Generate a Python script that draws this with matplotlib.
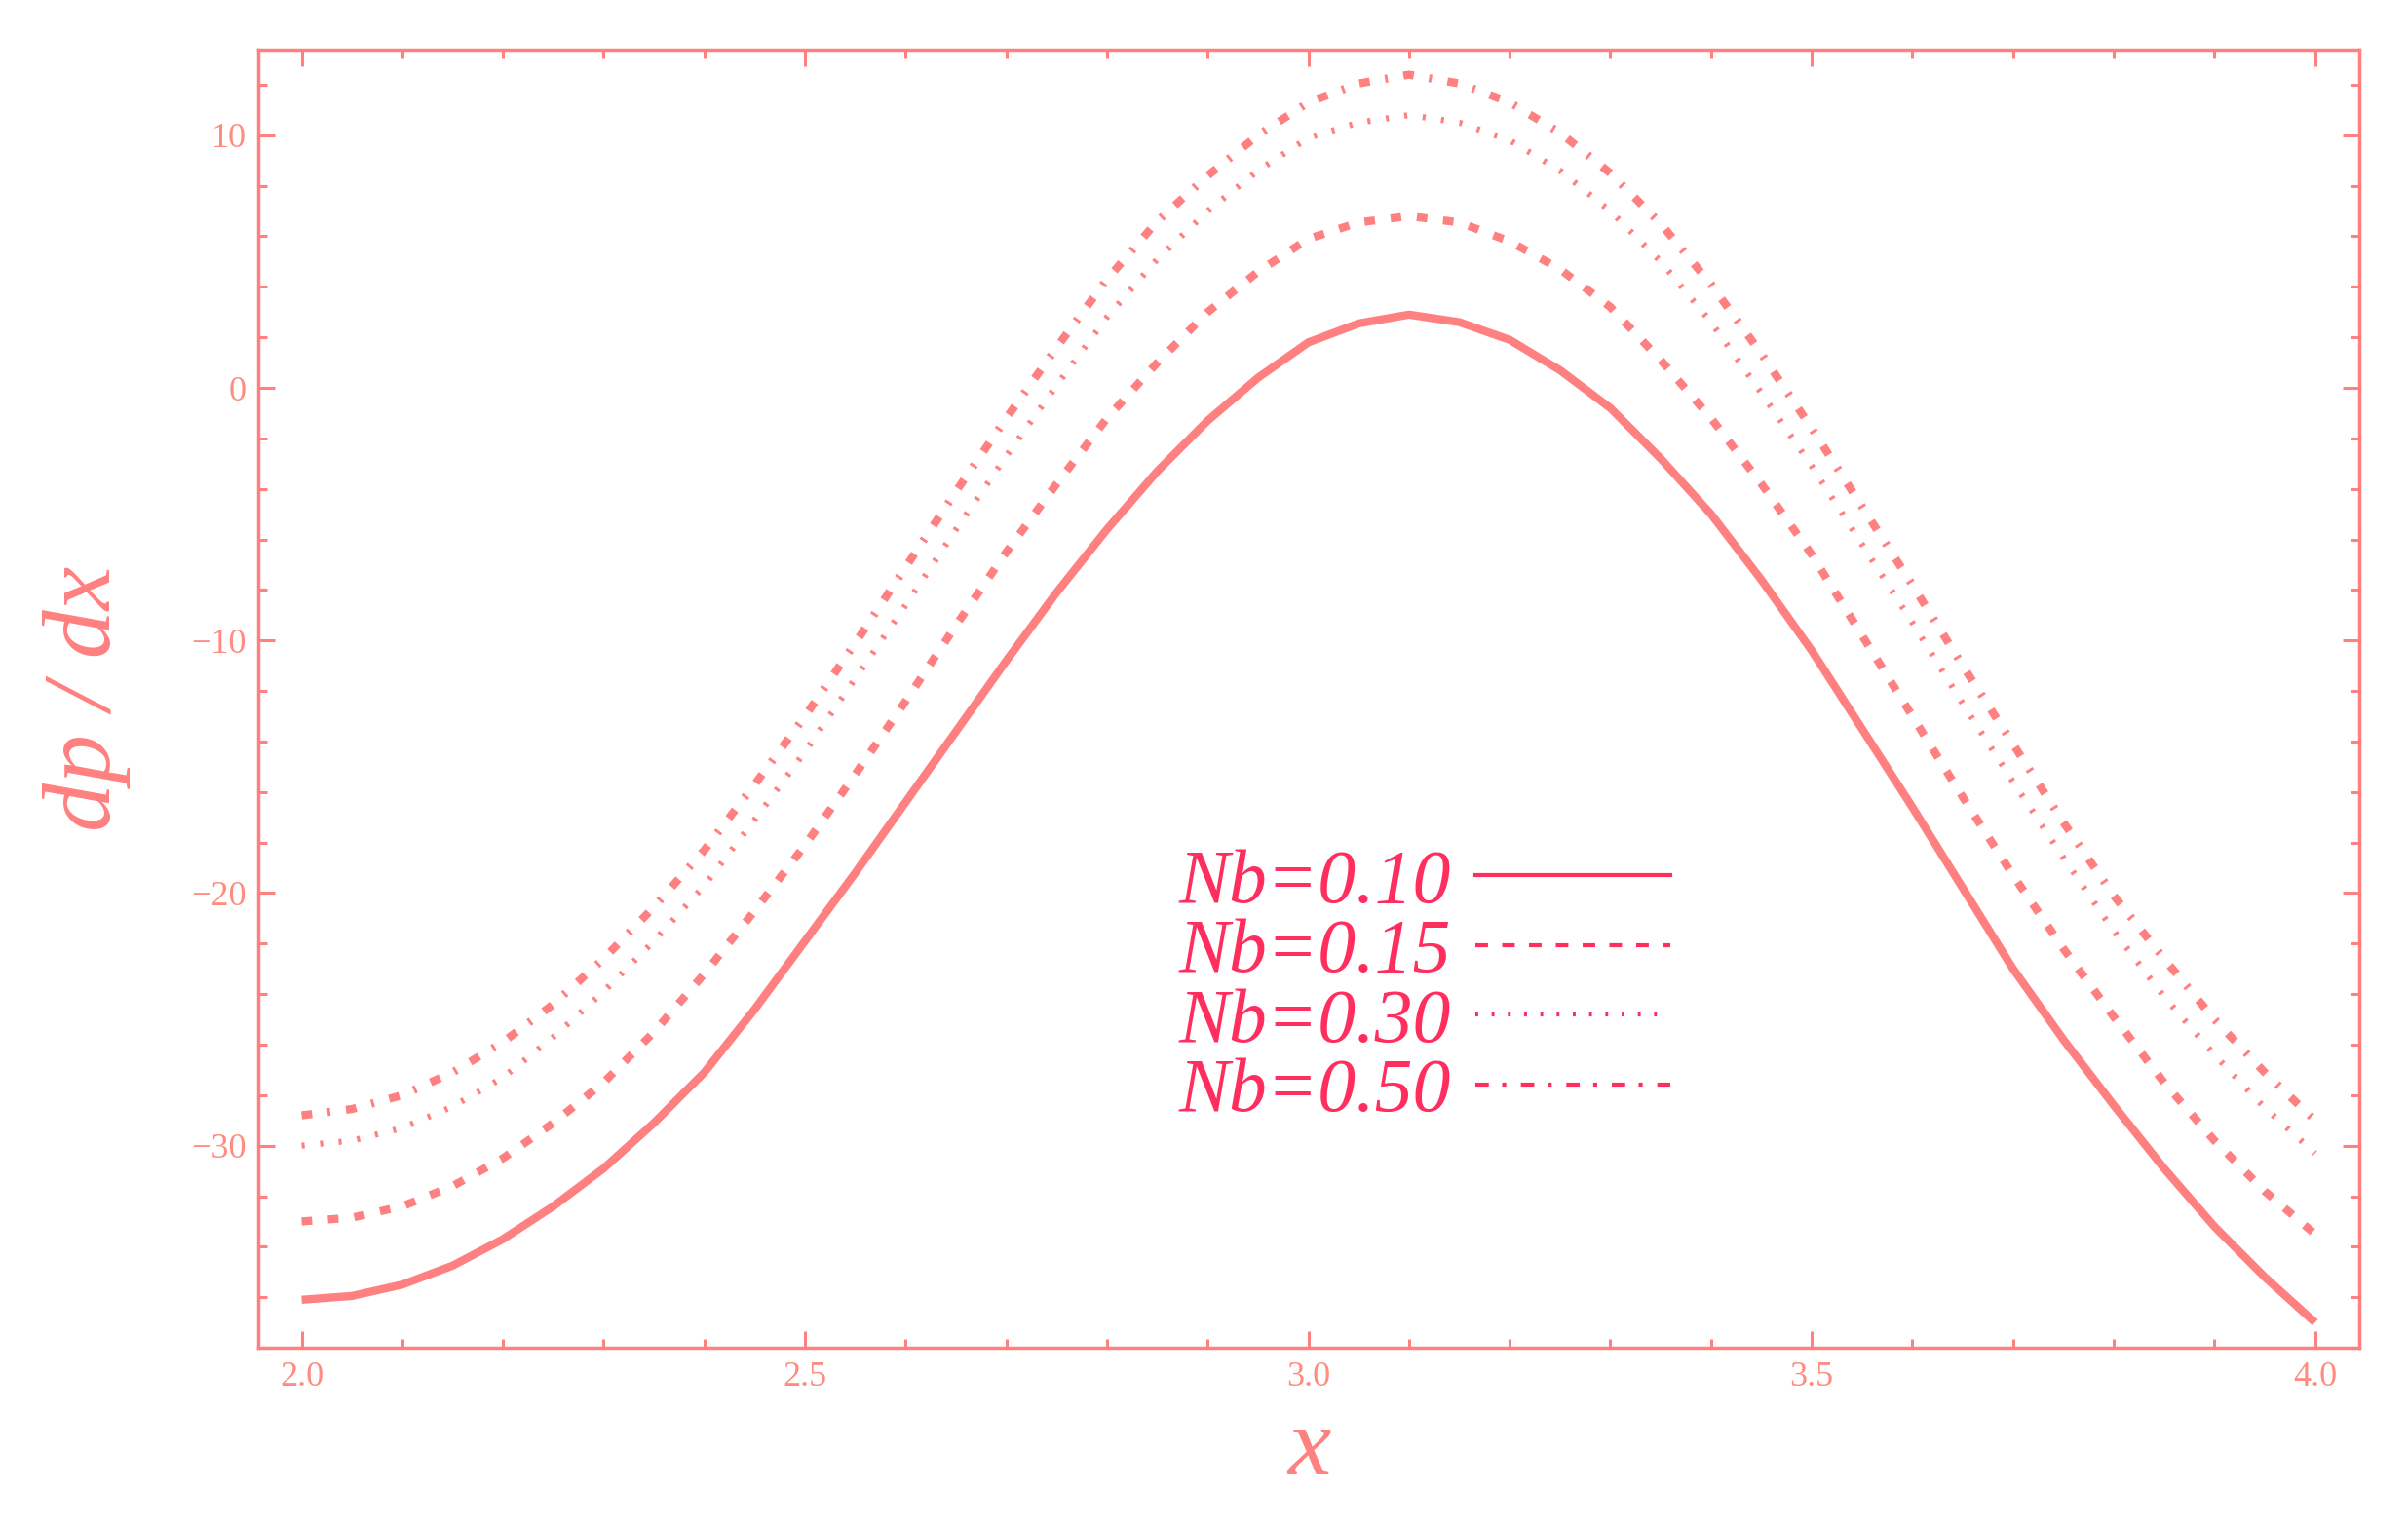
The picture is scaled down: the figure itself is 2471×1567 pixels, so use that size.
import numpy as np
import matplotlib
matplotlib.use('Agg')
import matplotlib.pyplot as plt
from matplotlib.ticker import MultipleLocator, FormatStrFormatter
from matplotlib.lines import Line2D

# valeurs (pas de 0.05 en x)
x = np.linspace(2.0, 4.0, 41)
nb_010 = [-36.1, -35.95, -35.5, -34.75, -33.7, -32.4, -30.9, -29.1, -27.1, -24.6,
          -21.9, -19.2, -16.4, -13.6, -10.8, -8.1, -5.6, -3.3, -1.3, 0.4,
          1.8, 2.55, 2.9, 2.6, 1.9, 0.7, -0.8, -2.8, -5.0, -7.6,
          -10.4, -13.5, -16.6, -19.8, -23.0, -25.8, -28.4, -30.9, -33.2, -35.2, -37.0]
nb_015 = [-33.0, -32.85, -32.4, -31.6, -30.5, -29.1, -27.5, -25.5, -23.2, -20.7,
          -18.1, -15.3, -12.4, -9.4, -6.5, -3.8, -1.2, 1.0, 3.0, 4.6,
          5.9, 6.55, 6.8, 6.55, 5.8, 4.7, 3.2, 1.1, -1.2, -3.8,
          -6.6, -9.8, -13.0, -16.2, -19.3, -22.2, -24.9, -27.5, -29.8, -31.8, -33.5]
nb_030 = [-30.0, -29.8, -29.3, -28.45, -27.3, -25.7, -23.9, -21.9, -19.7, -17.1,
          -14.4, -11.5, -8.6, -5.6, -2.7, 0.1, 2.8, 5.1, 7.0, 8.6,
          9.9, 10.5, 10.8, 10.5, 9.8, 8.6, 7.0, 5.0, 2.6, -0.2,
          -3.1, -6.2, -9.3, -12.5, -15.6, -18.6, -21.5, -24.1, -26.4, -28.5, -30.3]
nb_050 = [-28.8, -28.55, -28.0, -27.1, -25.9, -24.4, -22.6, -20.55, -18.3, -15.7,
          -13.0, -10.1, -7.1, -4.1, -1.2, 1.6, 4.3, 6.6, 8.4, 10.0,
          11.3, 12.05, 12.4, 12.05, 11.3, 10.1, 8.5, 6.5, 4.1, 1.35,
          -1.6, -4.7, -7.8, -11.0, -14.1, -17.2, -20.1, -22.6, -25.0, -27.1, -29.0]
nb = [0.10, 0.15, 0.30, 0.50]

coul = '#FF8080'
coul_txt = '#FF8C80'
coul_leg = '#FF2E5F'
plt.rcParams['font.family'] = 'Liberation Serif'

fig = plt.figure(figsize=(24.71, 15.67), dpi=100)
ax = fig.add_axes([0.1072, 0.1174, 0.8726, 0.8501])

series = [nb_010, nb_015, nb_030, nb_050]
styles = [('-', 6.0), ((0, (1.3, 1.95)), 6.0), ((0, (0.5, 2.55)), 4.5),
          ((0, (1.3, 1.9, 0.35, 1.95)), 6.0)]
for y, (ls, lw) in zip(series, styles):
    ax.plot(x, y, color=coul, lw=lw, linestyle=ls, dash_capstyle='butt', solid_capstyle='butt')

ax.set_xlim(1.9568, 4.044)
ax.set_ylim(-38.0, 13.39)

ax.xaxis.set_major_locator(MultipleLocator(0.5))
ax.xaxis.set_minor_locator(MultipleLocator(0.1))
ax.yaxis.set_major_locator(MultipleLocator(10))
ax.yaxis.set_minor_locator(MultipleLocator(2))
ax.xaxis.set_major_formatter(FormatStrFormatter('%.1f'))

for s in ax.spines.values():
    s.set_color(coul)
    s.set_linewidth(2.5)
ax.tick_params(which='both', direction='in', top=True, right=True, color=coul,
               labelcolor=coul_txt, labelsize=26, width=2.2)
ax.tick_params(which='major', length=12)
ax.tick_params(which='minor', length=6.5)
ax.tick_params(axis='x', pad=10)
ax.tick_params(axis='y', pad=9)

ax.set_xlabel('x', fontsize=72, style='italic', color=coul)
ax.set_ylabel('dp / dx', fontsize=72, style='italic', color=coul)
ax.xaxis.set_label_coords(0.5, -0.046)
ax.yaxis.set_label_coords(-0.0608, 0.5)

# legende
hl = [Line2D([], [], color=coul_leg, lw=3, linestyle='-'),
      Line2D([], [], color=coul_leg, lw=3, linestyle=(0, (3.1, 3.5)), dash_capstyle='butt'),
      Line2D([], [], color=coul_leg, lw=3, linestyle=(0, (0.7, 3.3)), dash_capstyle='butt'),
      Line2D([], [], color=coul_leg, lw=3, linestyle=(0, (3.3, 3.3, 1.0, 3.6)), dash_capstyle='butt')]
labels = ['Nb=%.2f' % v for v in nb]
ax.legend(hl, labels, loc='center', bbox_to_anchor=(0.555, 0.277), frameon=False,
          markerfirst=False, handlelength=2.57, handletextpad=0.33, labelspacing=0.0,
          labelcolor=coul_leg, prop={'family': 'Liberation Serif', 'style': 'italic', 'size': 56})

fig.savefig('out.png', dpi=100)
